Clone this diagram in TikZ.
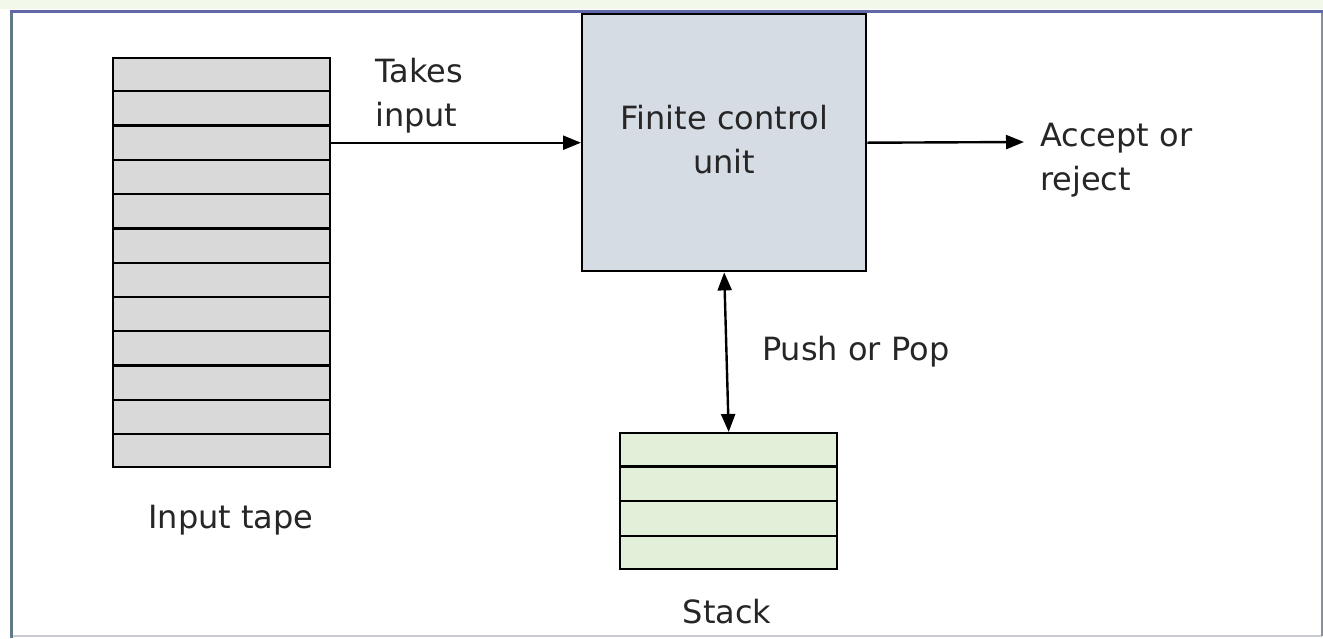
\documentclass[tikz,border=0pt]{standalone}
\usepackage{fontspec}
\setmainfont{DejaVu Sans}
\usetikzlibrary{arrows.meta,calc}
\definecolor{tapegrey}{HTML}{D9D9D9}
\definecolor{ctrlblue}{HTML}{D6DCE4}
\definecolor{stackgreen}{HTML}{E2EFD9}
\definecolor{textgrey}{HTML}{262626}
\definecolor{frametop}{HTML}{6068A8}
\definecolor{frameleft}{HTML}{627A88}
\definecolor{frameright}{HTML}{8A8F96}
\definecolor{framebottom}{HTML}{C8CCD0}
\definecolor{stripgreen}{HTML}{F2F8EA}
\begin{document}
\begin{tikzpicture}[x=1pt,y=-1pt,
  box/.style={draw=black,line width=2.4pt,inner sep=0pt,anchor=north west},
  lbl/.style={font=\fontsize{32}{44}\selectfont,text=textgrey,inner sep=0pt},
  link/.style={line width=2.4pt,-{Triangle[length=18pt,width=14pt]}},
  twoway/.style={line width=2.4pt,{Triangle[length=18pt,width=14pt]}-{Triangle[length=18pt,width=14pt]}},
  cellline/.style={line width=2.4pt},
]
\useasboundingbox (0,0) rectangle (1323,638);
\fill[white] (0,0) rectangle (1323,638);
\fill[stripgreen] (0,0) rectangle (1323,9);

% outer frame
\draw[framebottom,line width=2pt] (12,636) -- (1322,636);
\draw[frameright,line width=2pt] (1322,11) -- (1322,636);
\draw[frameleft,line width=3pt] (11.5,10) -- (11.5,638);
\draw[frametop,line width=3pt] (10,11) -- (1323,11);

% input tape with twelve cells
\node[box,fill=tapegrey,minimum width=217pt,minimum height=409pt] (tape) at (112,57) {};
\foreach \k in {1,...,11}
  \draw[cellline] ($(tape.north west)!\k/12!(tape.south west)$) -- ($(tape.north east)!\k/12!(tape.south east)$);

% finite control unit
\node[box,fill=ctrlblue,minimum width=284pt,minimum height=257pt] (fcu) at (581,13) {};
\node[lbl,align=center] (fcutext) at ($(fcu.center)+(0,-3)$) {Finite control\\unit};

% stack with four cells
\node[box,fill=stackgreen,minimum width=217pt,minimum height=136pt] (stack) at (619,432) {};
\foreach \k in {1,...,3}
  \draw[cellline] ($(stack.north west)!\k/4!(stack.south west)$) -- ($(stack.north east)!\k/4!(stack.south east)$);

% connectors
\coordinate (out) at (1024,142);
\draw[link] (tape.east |- fcu.west) -- (fcu.west);
\draw[link] (fcu.east) -- (out);
\draw[twoway] (fcu.south) -- (stack.north);

% labels
\node[lbl,align=left,anchor=north west] (takes) at (375,58) {Takes\\input};
\node[lbl,align=left,anchor=north west] (accept) at (1040,123) {Accept or\\reject};
\node[lbl,anchor=north west] (pushpop) at (762,336) {Push or Pop};
\node[lbl,anchor=north] (tapelbl) at (231,505) {Input tape};
\node[lbl,anchor=north] (stacklbl) at (727,599) {Stack};
\end{tikzpicture}
\end{document}
